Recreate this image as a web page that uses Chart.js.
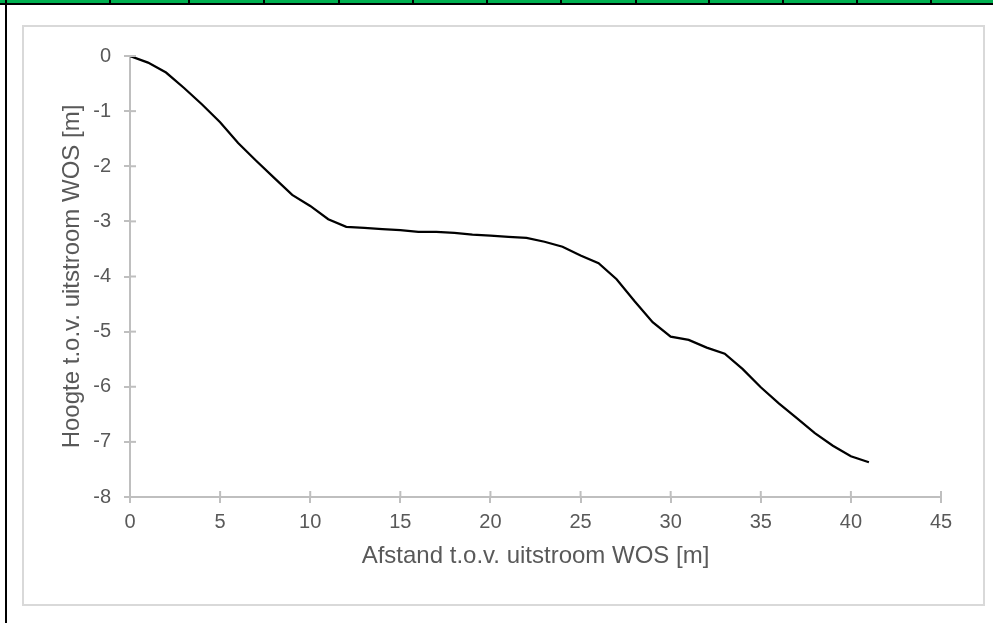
<!DOCTYPE html>
<html>
<head>
<meta charset="utf-8">
<script src="https://cdn.jsdelivr.net/npm/chart.js@4"></script>
<style>
  html, body { margin: 0; padding: 0; background: #ffffff; }
  #wrap { position: relative; width: 993px; height: 623px; overflow: hidden; background: #ffffff; }
  .deco { position: absolute; }
  #c { position: absolute; left: 0; top: 0; }
</style>
</head>
<body>
<div id="wrap">
  <div class="deco" style="left:0;top:0;width:993px;height:3px;background:#00b050;"></div>
  <div class="deco" style="left:0;top:3px;width:993px;height:2px;background:#000;"></div>
  <div class="deco" style="left:5px;top:0;width:2px;height:623px;background:#000;"></div>
  <div class="deco" style="left:109px;top:0;width:2px;height:4px;background:#000;"></div>
  <div class="deco" style="left:188px;top:0;width:2px;height:4px;background:#000;"></div>
  <div class="deco" style="left:263px;top:0;width:2px;height:4px;background:#000;"></div>
  <div class="deco" style="left:338px;top:0;width:2px;height:4px;background:#000;"></div>
  <div class="deco" style="left:412px;top:0;width:2px;height:4px;background:#000;"></div>
  <div class="deco" style="left:486px;top:0;width:2px;height:4px;background:#000;"></div>
  <div class="deco" style="left:560px;top:0;width:2px;height:4px;background:#000;"></div>
  <div class="deco" style="left:635px;top:0;width:2px;height:4px;background:#000;"></div>
  <div class="deco" style="left:708px;top:0;width:2px;height:4px;background:#000;"></div>
  <div class="deco" style="left:782px;top:0;width:2px;height:4px;background:#000;"></div>
  <div class="deco" style="left:856px;top:0;width:2px;height:4px;background:#000;"></div>
  <div class="deco" style="left:930px;top:0;width:2px;height:4px;background:#000;"></div>
  <div class="deco" style="left:22px;top:25px;width:963px;height:581px;border:2px solid #d9d9d9;box-sizing:border-box;"></div>
  <canvas id="c" width="993" height="623"></canvas>
</div>
<script>
// ---- data ----
const distance = [0,1,2,3,4,5,6,7,8,9,10,11,12,13,14,15,16,17,18,19,20,21,22,23,24,25,26,27,28,29,30,31,32,33,34,35,36,37,38,39,40,41];
const height = [0,-0.12,-0.30,-0.58,-0.88,-1.20,-1.58,-1.90,-2.21,-2.52,-2.72,-2.96,-3.10,-3.12,-3.14,-3.16,-3.19,-3.19,-3.21,-3.24,-3.26,-3.28,-3.30,-3.37,-3.46,-3.62,-3.76,-4.05,-4.45,-4.83,-5.09,-5.15,-5.29,-5.40,-5.68,-6.01,-6.30,-6.57,-6.84,-7.07,-7.26,-7.37];
const xTitle = 'Afstand t.o.v. uitstroom WOS [m]';
const yTitle = 'Hoogte t.o.v. uitstroom WOS [m]';
const xRange = [0, 45];
const yRange = [-8, 0];

const points = distance.map((d, i) => ({ x: d, y: height[i] }));

const AXIS = '#bfbfbf';
const TEXT = '#595959';
const FONT = "'Liberation Sans', Arial, sans-serif";

const innerTicks = {
  id: 'innerTicks',
  afterDraw(chart) {
    const ctx = chart.ctx;
    ctx.save();
    ctx.strokeStyle = AXIS;
    ctx.lineWidth = 2;
    const xs = chart.scales.x, ys = chart.scales.y;
    xs.ticks.forEach((t, i) => {
      const px = xs.getPixelForTick(i);
      ctx.beginPath(); ctx.moveTo(px, xs.top); ctx.lineTo(px, xs.top - 6); ctx.stroke();
    });
    ys.ticks.forEach((t, i) => {
      const py = ys.getPixelForTick(i);
      ctx.beginPath(); ctx.moveTo(ys.right, py); ctx.lineTo(ys.right + 6, py); ctx.stroke();
    });
    ctx.restore();
  }
};

new Chart(document.getElementById('c'), {
  type: 'scatter',
  data: {
    datasets: [{
      data: points,
      showLine: true,
      borderColor: '#000000',
      borderWidth: 2.25,
      pointRadius: 0,
      tension: 0,
      fill: false
    }]
  },
  options: {
    responsive: false,
    animation: false,
    layout: { padding: { left: 23, top: 56, right: 52, bottom: 19 } },
    plugins: { legend: { display: false }, tooltip: { enabled: false } },
    scales: {
      x: {
        type: 'linear',
        min: xRange[0], max: xRange[1],
        afterFit(s) { s.height = 107; },
        ticks: { stepSize: 5, color: TEXT, font: { family: FONT, size: 20 }, padding: 7, maxRotation: 0 },
        grid: { drawOnChartArea: false, drawTicks: true, tickLength: 6, color: AXIS, lineWidth: 2 },
        border: { display: true, color: AXIS, width: 2 },
        title: { display: true, text: xTitle, color: TEXT, font: { family: FONT, size: 24 }, padding: { top: 0, bottom: 33 } }
      },
      y: {
        type: 'linear',
        min: yRange[0], max: yRange[1],
        afterFit(s) { s.width = 107; },
        ticks: { stepSize: 1, color: TEXT, font: { family: FONT, size: 20 }, padding: 13 },
        grid: { drawOnChartArea: false, drawTicks: true, tickLength: 6, color: AXIS, lineWidth: 2 },
        border: { display: true, color: AXIS, width: 2 },
        title: { display: true, text: yTitle, color: TEXT, font: { family: FONT, size: 24 }, padding: { top: 35, bottom: 0 } }
      }
    }
  },
  plugins: [innerTicks]
});
</script>
</body>
</html>
